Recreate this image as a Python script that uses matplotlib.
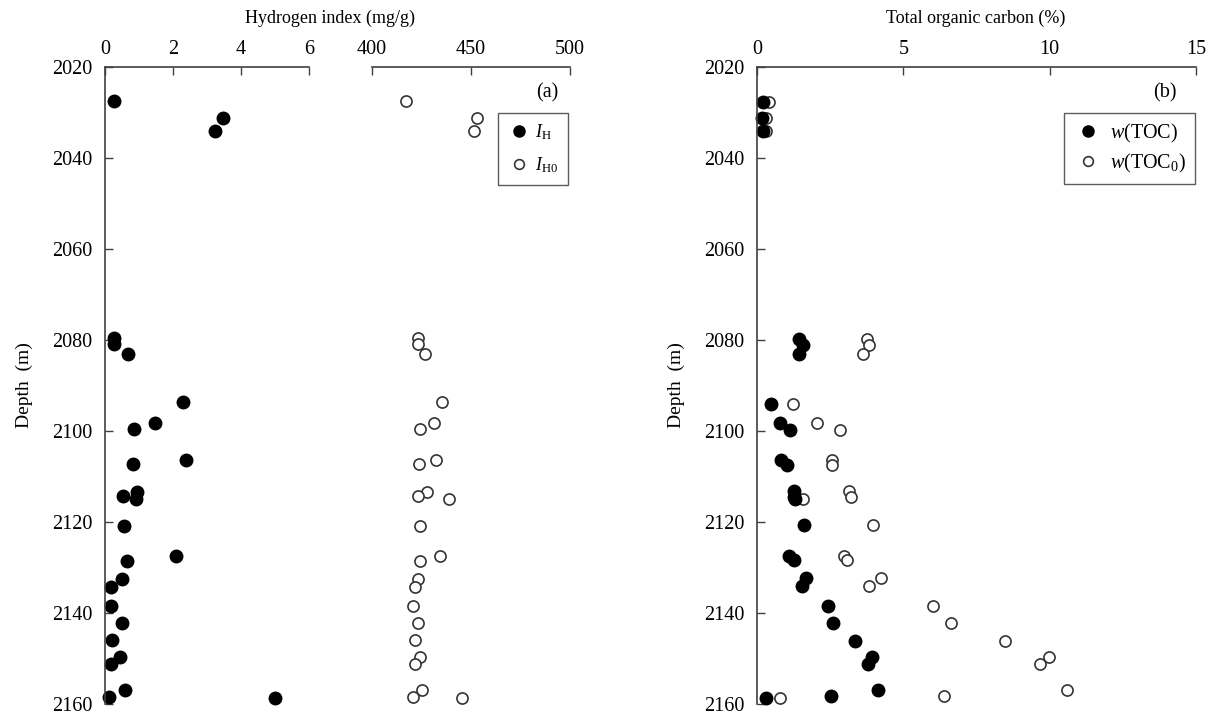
import matplotlib
matplotlib.use("Agg")
import matplotlib.pyplot as plt
from matplotlib.lines import Line2D

plt.rcParams['font.family'] = ['Liberation Serif', 'DejaVu Serif']
plt.rcParams['mathtext.fontset'] = 'custom'
plt.rcParams['mathtext.rm'] = 'Liberation Serif'
plt.rcParams['mathtext.it'] = 'Liberation Serif:italic'

# sample depths (m) for the hydrogen index panel
depth_h = [2027.4, 2031.2, 2034.1, 2079.5, 2080.8, 2083.0, 2093.7, 2098.2, 2099.5,
           2106.3, 2107.3, 2113.5, 2114.3, 2115.0, 2120.8, 2127.5, 2128.6, 2132.5,
           2134.3, 2138.4, 2142.2, 2146.0, 2149.6, 2151.1, 2157.0, 2158.4, 2158.6]
ih = [0.25, 3.46, 3.24, 0.25, 0.25, 0.68, 2.28, 1.48, 0.84,
      2.39, 0.82, 0.94, 0.54, 0.90, 0.56, 2.09, 0.64, 0.49,
      0.17, 0.17, 0.50, 0.22, 0.44, 0.17, 0.60, 0.11, 5.00]
ih0 = [417.0, 452.8, 451.6, 423.1, 423.0, 426.8, 435.6, 431.2, 424.1,
       432.2, 423.8, 427.8, 423.1, 438.8, 424.1, 434.1, 424.1, 423.3,
       421.9, 420.9, 423.1, 421.9, 424.1, 421.9, 425.5, 420.9, 445.7]

# sample depths (m) for the TOC panel
depth_c = [2027.6, 2031.3, 2034.0, 2079.8, 2081.2, 2083.1, 2094.0, 2098.2, 2099.8,
           2106.4, 2107.5, 2113.2, 2114.4, 2114.9, 2120.7, 2127.5, 2128.4, 2132.2,
           2134.0, 2138.5, 2142.2, 2146.2, 2149.7, 2151.2, 2157.0, 2158.2, 2158.7]
toc = [0.20, 0.17, 0.20, 1.45, 1.56, 1.42, 0.49, 0.77, 1.14,
       0.82, 1.04, 1.25, 1.25, 1.31, 1.59, 1.11, 1.25, 1.67,
       1.54, 2.41, 2.59, 3.34, 3.93, 3.79, 4.15, 2.53, 0.32]
toc0 = [0.40, 0.32, 0.32, 3.76, 3.84, 3.62, 1.23, 2.05, 2.84,
        2.56, 2.56, 3.13, 3.22, 1.58, 3.96, 2.98, 3.09, 4.25,
        3.83, 6.03, 6.62, 8.48, 9.99, 9.68, 10.58, 6.39, 0.77]

W, H = 1215, 718
fig = plt.figure(figsize=(W / 100, H / 100), dpi=100)
bot = 1 - 704 / H
hgt = 637 / H
axc = '#404040'
fs = 13
tfs = 14.5

ax1 = fig.add_axes([105 / W, bot, 204 / W, hgt])
ax2 = fig.add_axes([372 / W, bot, 198 / W, hgt])
ax3 = fig.add_axes([757 / W, bot, 439 / W, hgt])

for ax in (ax1, ax2, ax3):
    ax.set_ylim(2160, 2020)
    ax.set_yticks(range(2020, 2161, 20))
    ax.xaxis.tick_top()
    ax.spines['right'].set_visible(False)
    ax.spines['bottom'].set_visible(False)
    for s in ax.spines.values():
        s.set_color(axc)
        s.set_linewidth(1.2)
    ax.tick_params(direction='in', length=6, width=1, color=axc, labelsize=tfs)
    ax.tick_params(axis='y', pad=9)
    ax.tick_params(axis='x', pad=6)

ax2.spines['left'].set_visible(False)
ax2.tick_params(axis='y', left=False, labelleft=False)

ax1.set_xlim(0, 6)
ax1.set_xticks([0, 2, 4, 6])
ax2.set_xlim(400, 500)
ax2.set_xticks([400, 450, 500])
ax3.set_xlim(0, 15)
ax3.set_xticks([0, 5, 10, 15])

ax1.plot(ih, depth_h, 'o', ms=9, color='black', clip_on=False)
ax2.plot(ih0, depth_h, 'o', ms=8, mfc='white', mec='#333333', mew=1.2, clip_on=False)
ax3.plot(toc0, depth_c, 'o', ms=8, mfc='white', mec='#333333', mew=1.2, clip_on=False)
ax3.plot(toc, depth_c, 'o', ms=9, color='black', clip_on=False)

ax1.set_ylabel('Depth  (m)', fontsize=14, labelpad=14)
ax3.set_ylabel('Depth  (m)', fontsize=14, labelpad=14)
fig.text(330 / W, 1 - 18 / H, 'Hydrogen index (mg/g)', ha='center', va='center', fontsize=fs)
fig.text(976 / W, 1 - 18 / H, 'Total organic carbon (%)', ha='center', va='center', fontsize=fs)

h_full = Line2D([], [], marker='o', ls='', ms=8, color='black')
h_open = Line2D([], [], marker='o', ls='', ms=7, mfc='white', mec='#333333', mew=1.2)

leg1 = ax2.legend([h_full, h_open], [r'$I_{\mathrm{H}}$', r'$I_{\mathrm{H0}}$'],
                  loc='upper right', bbox_to_anchor=(0.99, 0.928), borderaxespad=0,
                  fancybox=False, edgecolor='#333333', fontsize=fs, handletextpad=0.3,
                  handlelength=1.2, borderpad=0.55, labelspacing=0.7)
leg1.get_frame().set_linewidth(1)
ax2.text(0.884, 0.959, '(a)', transform=ax2.transAxes, ha='center', va='center', fontsize=tfs)

leg2 = ax3.legend([h_full, h_open], [r'$w$(TOC)', r'$w$(TOC$_0$)'],
                  loc='upper right', bbox_to_anchor=(0.997, 0.928), borderaxespad=0,
                  fancybox=False, edgecolor='#333333', fontsize=14.5, handletextpad=0.4,
                  handlelength=1.4, borderpad=0.45, labelspacing=0.35)
leg2.get_frame().set_linewidth(1)
ax3.text(0.929, 0.959, '(b)', transform=ax3.transAxes, ha='center', va='center', fontsize=tfs)

fig.savefig('out.png', dpi=100)
